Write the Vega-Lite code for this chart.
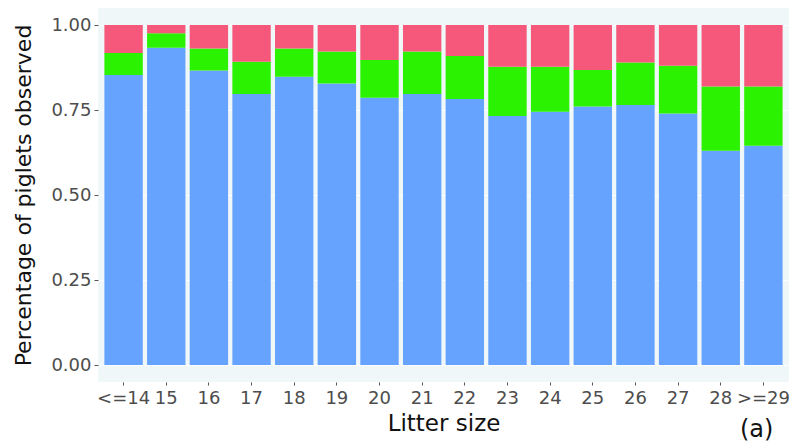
{
  "$schema": "https://vega.github.io/schema/vega-lite/v6.json",
  "width": 691,
  "height": 374,
  "autosize": {"type": "none"},
  "padding": {"left": 98, "top": 8, "right": 2, "bottom": 63},
  "background": "white",
  "config": {
    "view": {"fill": "#F0F7F8", "stroke": null},
    "font": "DejaVu Sans"
  },
  "title": {
    "text": "(a)",
    "orient": "bottom",
    "anchor": "end",
    "fontSize": 24,
    "fontWeight": "normal",
    "color": "#111111",
    "offset": 2,
    "dx": -16,
    "baseline": "alphabetic"
  },
  "data": {
    "values": [
      {"size": "<=14", "group": "Group 1", "k": 1, "share": 0.853},
      {"size": "<=14", "group": "Group 2", "k": 2, "share": 0.065},
      {"size": "<=14", "group": "Group 3", "k": 3, "share": 0.082},
      {"size": "15", "group": "Group 1", "k": 1, "share": 0.933},
      {"size": "15", "group": "Group 2", "k": 2, "share": 0.043},
      {"size": "15", "group": "Group 3", "k": 3, "share": 0.024},
      {"size": "16", "group": "Group 1", "k": 1, "share": 0.866},
      {"size": "16", "group": "Group 2", "k": 2, "share": 0.065},
      {"size": "16", "group": "Group 3", "k": 3, "share": 0.069},
      {"size": "17", "group": "Group 1", "k": 1, "share": 0.797},
      {"size": "17", "group": "Group 2", "k": 2, "share": 0.095},
      {"size": "17", "group": "Group 3", "k": 3, "share": 0.108},
      {"size": "18", "group": "Group 1", "k": 1, "share": 0.848},
      {"size": "18", "group": "Group 2", "k": 2, "share": 0.083},
      {"size": "18", "group": "Group 3", "k": 3, "share": 0.069},
      {"size": "19", "group": "Group 1", "k": 1, "share": 0.828},
      {"size": "19", "group": "Group 2", "k": 2, "share": 0.094},
      {"size": "19", "group": "Group 3", "k": 3, "share": 0.078},
      {"size": "20", "group": "Group 1", "k": 1, "share": 0.786},
      {"size": "20", "group": "Group 2", "k": 2, "share": 0.111},
      {"size": "20", "group": "Group 3", "k": 3, "share": 0.103},
      {"size": "21", "group": "Group 1", "k": 1, "share": 0.797},
      {"size": "21", "group": "Group 2", "k": 2, "share": 0.125},
      {"size": "21", "group": "Group 3", "k": 3, "share": 0.078},
      {"size": "22", "group": "Group 1", "k": 1, "share": 0.782},
      {"size": "22", "group": "Group 2", "k": 2, "share": 0.127},
      {"size": "22", "group": "Group 3", "k": 3, "share": 0.091},
      {"size": "23", "group": "Group 1", "k": 1, "share": 0.732},
      {"size": "23", "group": "Group 2", "k": 2, "share": 0.145},
      {"size": "23", "group": "Group 3", "k": 3, "share": 0.123},
      {"size": "24", "group": "Group 1", "k": 1, "share": 0.745},
      {"size": "24", "group": "Group 2", "k": 2, "share": 0.132},
      {"size": "24", "group": "Group 3", "k": 3, "share": 0.123},
      {"size": "25", "group": "Group 1", "k": 1, "share": 0.760},
      {"size": "25", "group": "Group 2", "k": 2, "share": 0.108},
      {"size": "25", "group": "Group 3", "k": 3, "share": 0.132},
      {"size": "26", "group": "Group 1", "k": 1, "share": 0.765},
      {"size": "26", "group": "Group 2", "k": 2, "share": 0.125},
      {"size": "26", "group": "Group 3", "k": 3, "share": 0.110},
      {"size": "27", "group": "Group 1", "k": 1, "share": 0.740},
      {"size": "27", "group": "Group 2", "k": 2, "share": 0.140},
      {"size": "27", "group": "Group 3", "k": 3, "share": 0.120},
      {"size": "28", "group": "Group 1", "k": 1, "share": 0.630},
      {"size": "28", "group": "Group 2", "k": 2, "share": 0.189},
      {"size": "28", "group": "Group 3", "k": 3, "share": 0.181},
      {"size": ">=29", "group": "Group 1", "k": 1, "share": 0.645},
      {"size": ">=29", "group": "Group 2", "k": 2, "share": 0.174},
      {"size": ">=29", "group": "Group 3", "k": 3, "share": 0.181}
    ]
  },
  "mark": {"type": "bar"},
  "encoding": {
    "x": {
      "field": "size",
      "type": "nominal",
      "sort": null,
      "scale": {"paddingInner": 0.1, "paddingOuter": 0.15},
      "axis": {
        "title": "Litter size",
        "titleFontSize": 23,
        "titleFontWeight": "normal",
        "titleColor": "#111111",
        "titlePadding": 5,
        "labelAngle": 0,
        "labelFontSize": 18,
        "labelColor": "#4D4D4D",
        "labelPadding": 4,
        "tickColor": "#555555",
        "tickSize": 3,
        "domain": false,
        "grid": false
      }
    },
    "y": {
      "field": "share",
      "type": "quantitative",
      "stack": "zero",
      "scale": {"domain": [-0.05, 1.05], "nice": false, "zero": false},
      "axis": {
        "title": "Percentage of piglets observed",
        "titleFontSize": 22,
        "titleFontWeight": "normal",
        "titleColor": "#111111",
        "titlePadding": 15,
        "values": [0, 0.25, 0.5, 0.75, 1],
        "format": ".2f",
        "labelFontSize": 18,
        "labelColor": "#4D4D4D",
        "labelPadding": 3,
        "tickColor": "#555555",
        "tickSize": 4,
        "domain": false,
        "grid": true,
        "gridColor": "white",
        "gridWidth": 1
      }
    },
    "color": {
      "field": "group",
      "type": "nominal",
      "scale": {
        "domain": ["Group 1", "Group 2", "Group 3"],
        "range": ["#66A3FF", "#2AF200", "#F5587A"]
      },
      "legend": null
    },
    "order": {"field": "k", "sort": "ascending"}
  }
}
